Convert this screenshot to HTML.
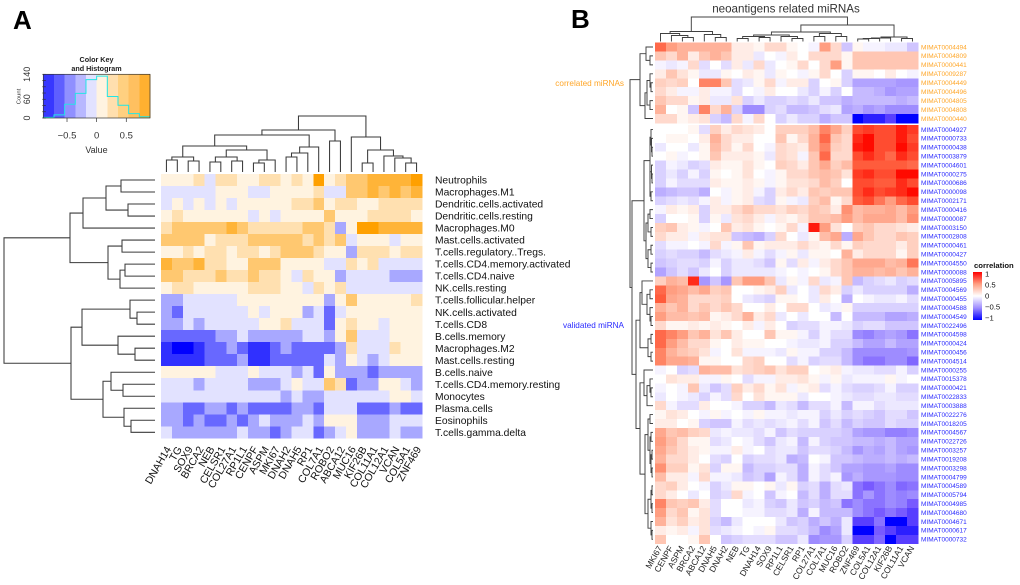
<!DOCTYPE html>
<html lang="en">
<head>
<meta charset="utf-8">
<title>Immune cell and neoantigen miRNA correlation heatmaps</title>
<style>
html,body{margin:0;padding:0;background:#fff;width:1020px;height:585px;overflow:hidden}
svg{display:block;font-family:"Liberation Sans",Arial,sans-serif;filter:blur(0.35px)}
</style>
</head>
<body>
<svg id="figure" width="1020" height="585" viewBox="0 0 1020 585" xmlns="http://www.w3.org/2000/svg">
<rect x="0" y="0" width="1020" height="585" fill="#fff"/>
<text x="13" y="29" font-size="26" font-weight="bold" fill="#000">A</text>
<text x="571" y="28" font-size="26" font-weight="bold" fill="#000">B</text>
<text x="96.5" y="62" font-size="7.2" font-weight="bold" text-anchor="middle" fill="#222">Color Key</text>
<text x="96.5" y="71" font-size="7.2" font-weight="bold" text-anchor="middle" fill="#222">and Histogram</text>
<text x="96.5" y="153" font-size="9" text-anchor="middle" fill="#333">Value</text>
<text transform="translate(20.5,96.5) rotate(-90)" font-size="5.8" text-anchor="middle" fill="#333">Count</text>
<text x="786" y="12.5" font-size="11.6" text-anchor="middle" fill="#333">neoantigens related miRNAs</text>
<text x="624" y="86" font-size="8.2" text-anchor="end" fill="#ffa628">correlated miRNAs</text>
<text x="624" y="328" font-size="8.2" text-anchor="end" fill="#2a2aff">validated miRNA</text>
<defs>
<linearGradient id="legendGradient" x1="0" y1="0" x2="0" y2="1">
<stop offset="0" stop-color="#ff0000"/><stop offset="0.25" stop-color="#ff9e81"/><stop offset="0.5" stop-color="#ffffff"/><stop offset="0.75" stop-color="#9e8cff"/><stop offset="1" stop-color="#0000ff"/>
</linearGradient>
</defs>
<rect x="973" y="272" width="9" height="48" fill="url(#legendGradient)"/>
<text x="974" y="268" font-size="7.7" font-weight="bold" fill="#111">correlation</text>
<g id="legendTicks"></g>
<g id="keyLayer"></g>
<g id="heatA" shape-rendering="crispEdges"></g>
<g id="treesA" fill="none" stroke="#3a3a3a" stroke-width="1.05"></g>
<g id="labelsA" fill="#111"></g>
<g id="heatB" shape-rendering="crispEdges"></g>
<g id="treesB" fill="none" stroke="#404040" stroke-width="0.95"></g>
<g id="labelsB"></g>
</svg>
<script>
// ---------- Panel A data ----------
const geneLabelsA = ["DNAH14","TG","SOX9","BRCA2","NEB","CELSR1","COL27A1","RP1L1","CENPF","ASPM","MKI67","DNAH2","DNAH5","RP1","COL7A1","ROBO2","ABCA12","MUC16","KIF26B","COL11A1","COL12A1","VCAN","COL5A1","ZNF469"];
const cellLabelsA = ["Neutrophils","Macrophages.M1","Dendritic.cells.activated","Dendritic.cells.resting","Macrophages.M0","Mast.cells.activated","T.cells.regulatory..Tregs.","T.cells.CD4.memory.activated","T.cells.CD4.naive","NK.cells.resting","T.cells.follicular.helper","NK.cells.activated","T.cells.CD8","B.cells.memory","Macrophages.M2","Mast.cells.resting","B.cells.naive","T.cells.CD4.memory.resting","Monocytes","Plasma.cells","Eosinophils","T.cells.gamma.delta"];
// binned correlation (negative = blue bins, positive = orange bins)
const binnedCorrelationA = [
[1,1,1,2,-1,2,2,1,1,2,2,1,2,1,5,1,2,3,3,4,4,4,4,5],
[-1,-1,-1,-1,-1,1,1,1,-1,-1,1,1,1,1,2,-1,-1,3,3,4,3,4,3,4],
[-1,1,-1,1,-1,1,-1,1,1,1,1,1,2,2,3,1,2,2,1,1,2,2,2,2],
[1,2,1,1,1,1,1,1,-1,1,-1,1,1,1,1,3,1,1,1,2,2,2,2,1],
[2,3,3,3,3,3,4,3,2,2,2,2,2,3,3,2,-2,1,5,5,4,4,4,4],
[3,3,3,3,1,2,2,2,3,3,3,3,3,2,3,2,3,-1,1,1,1,-1,1,1],
[1,1,2,1,2,2,1,2,2,1,2,3,3,3,2,1,1,-2,2,2,2,1,2,2],
[4,3,3,4,2,2,1,1,3,3,3,1,1,1,1,-1,-1,2,1,2,-1,-1,-1,-1],
[3,3,2,2,2,3,2,2,3,2,2,1,-1,2,1,1,-2,-1,-1,-1,-1,-2,-2,-2],
[1,2,2,1,1,1,1,1,2,2,2,1,1,-1,2,1,2,-1,-1,-1,-1,-1,-1,-1],
[-2,-2,-1,-1,-1,-1,-1,1,1,1,1,1,1,1,1,-2,1,3,1,1,1,1,1,2],
[-2,-3,-1,-1,-1,-1,-1,-1,1,-1,1,1,1,-2,-1,-3,-1,1,1,1,1,1,1,1],
[-2,-2,-1,-2,-1,-1,-1,-1,-1,1,1,2,-1,-1,-1,-3,1,2,1,1,-1,1,1,1],
[-3,-3,-3,-3,-3,-2,-2,-1,-2,-2,-2,-2,-2,-1,-1,-2,1,3,-1,-1,-1,1,1,1],
[-4,-5,-5,-4,-3,-3,-2,-3,-4,-4,-3,-2,-3,-3,-3,-3,-2,2,-1,-1,-1,2,1,1],
[-4,-4,-4,-4,-3,-3,-3,-2,-4,-4,-3,-3,-3,-3,-3,-1,-2,1,-1,-2,-1,1,1,1],
[1,1,1,1,1,-1,-1,-1,1,-1,-1,-1,-2,-1,-3,1,-2,-2,-2,-3,-2,-2,-2,-2],
[-1,-1,-1,-2,-1,-1,-1,-1,-2,-2,-2,-1,1,-1,-1,3,2,-3,-2,-2,1,1,-1,-2],
[-1,-1,-1,-1,-1,-1,-1,-1,-1,-1,-1,-2,-1,-2,-2,-1,-1,-1,-1,-1,-1,1,1,-1],
[-2,-2,-3,-3,-2,-2,-3,-2,-3,-3,-3,-3,-2,-2,-3,-1,-1,-1,-3,-3,-3,-2,-3,-3],
[-2,-2,-3,-2,-3,-3,-2,-3,-2,-1,-2,-2,-2,-1,-2,1,1,1,-2,-2,-2,-1,-1,-1],
[-1,-2,-2,-2,-2,-2,-2,-1,-2,-2,-3,-2,-1,-1,-3,-2,-1,1,-2,-2,-2,-1,-2,-2]
];
const geneTreeA = [56,[42,[37,[26,[15,[12,0,1],[11,2,3]],[22,[15,[10,4,5],[11,6,7]],[12,[9,8,9],10]]],[25,[19,[15,11,12],13],14]],[31,15,16]],[35,17,[22,[9,18,19],[16,20,[14,21,[9,22,23]]]]]];
const cellTreeA = [151,[85,[72,[49,[34,0,1],[27,2,3]],4],[47,[33,5,6],[35,[30,7,8],9]]],[84,[73,[25,10,[18,11,12]],[37,13,[20,14,15]]],[52,[44,16,[32,17,18]],[31,19,[24,20,21]]]]];
const histogramCounts = [2,10,44,79,123,134,69,41,14,4];
const keyTicksX = [-0.5,0,0.5];
const keyTicksY = [0,20,40,60,80,100,120,140];
const keyTickLabelsY = [0,60,140];

// ---------- Panel B data ----------
const geneLabelsB = ["MKI67","CENPF","ASPM","BRCA2","ABCA12","DNAH5","DNAH2","NEB","TG","DNAH14","SOX9","RP1L1","CELSR1","RP1","COL27A1","COL7A1","MUC16","ROBO2","ZNF469","COL5A1","COL12A1","KIF26B","COL11A1","VCAN"];
const correlatedMirnas = ["MIMAT0004494","MIMAT0004809","MIMAT0000441","MIMAT0009287","MIMAT0004449","MIMAT0004496","MIMAT0004805","MIMAT0004808","MIMAT0000440"];
const validatedMirnas = ["MIMAT0004927","MIMAT0000733","MIMAT0000438","MIMAT0003879","MIMAT0004601","MIMAT0000275","MIMAT0000686","MIMAT0000098","MIMAT0002171","MIMAT0000416","MIMAT0000087","MIMAT0003150","MIMAT0002808","MIMAT0000461","MIMAT0000427","MIMAT0004550","MIMAT0000088","MIMAT0005895","MIMAT0004569","MIMAT0000455","MIMAT0004588","MIMAT0004549","MIMAT0022496","MIMAT0004598","MIMAT0000424","MIMAT0000456","MIMAT0004514","MIMAT0000255","MIMAT0015378","MIMAT0000421","MIMAT0022833","MIMAT0003888","MIMAT0022276","MIMAT0018205","MIMAT0004567","MIMAT0022726","MIMAT0003257","MIMAT0019208","MIMAT0003298","MIMAT0004799","MIMAT0004589","MIMAT0005794","MIMAT0004985","MIMAT0004680","MIMAT0004671","MIMAT0000617","MIMAT0000732"];
// correlation in tenths
const correlationCorrelated = [
[7,5,4,4,4,4,4,1,1,.5,2,2,.5,0,-.5,5,2,-2.5,.5,-.5,-.5,-1,-1,-2.5],
[3,2,4,1,3,4,3,1,1,-1,0,-.5,1,0,2,2,2,.5,3,3,3,3,3,3],
[-.5,-1,-.5,2,-1.5,0,-1.5,1,-1,2,-1,0,.5,2,0,2,5,.5,3,3,3,3,3,3],
[1,3,1.5,.5,-1,-1,.5,0,1,.5,-1,.5,0,-.5,.5,2,0,-2,.5,.5,0,1,0,-.5],
[2.5,2,2.5,0,6,6,3,-1.5,-1,.5,2,-.5,1,1,-2,0,.5,-2,-4,-4,-4,-4,-4.5,-4.5],
[2,1,-.5,-.5,1,-.5,-.5,-1.5,0,-.5,1,0,0,-1,-2,-.5,-2,0,-3,-3,-3.5,-4.5,-4,-4],
[3,2,2,.5,1,-1,-1,1.5,-2,-1,-2,-2,-1.5,-2,-1,-2.5,-2.5,-3.5,-3,-3,-3,-3,-3.5,-3],
[4,0,.5,-2.5,6,2,4,-2,-5,-5,-2,-1.5,-3,-3,-2.5,-1.5,-1,-4,-3.5,-4.5,-4,-5,-5,-5],
[2,2,.5,1,1.5,-2,-3,2,-.5,2,0,-2,-1,-2,-2,-3.5,-2.5,-2.5,-10,-9,-9,-8,-10,-10]
];
const correlationValidated = [
[0,0,0,.5,-1.5,2.5,1,2,1.5,1,0,2.5,2.5,2.5,3.5,6,4.5,2.5,8,8.5,8,8,9.5,8.5],
[0,.5,.5,0,1,4,2,1,1,0,0,3,.5,2,4,7,3,2,9,10,8,8,9.5,8],
[-1,0,0,-1,.5,3.5,2,.5,2,0,-.5,2,1.5,1,4,6,2.5,2,9.5,10,8,8,10,8.5],
[0,.5,-.5,0,.5,3,1,1,1,.5,-1,2,1.5,-.5,3,7,2,2,8,9,8,7,9,8],
[-2,-.5,-1,-2,-1.5,1,.5,.5,1.5,.5,0,2.5,2,1,3,4.5,2.5,3.5,7.5,7.5,7.5,7.5,7.5,7],
[-2,-1,-2,-.5,-2,.5,0,.5,1.5,0,-.5,.5,2,2,3,3.5,3,1.5,8.5,9,8,8,10,10],
[-2,-.5,-1.5,-1.5,-1.5,1,.5,.5,1,.5,-.5,.5,1.5,1.5,2,3.5,2.5,0,8,8,7.5,7.5,9,8],
[-3.5,-3,-2.5,-2.5,-3.5,0,-.5,.5,1,-.5,-2,1,2,1,3,2.5,3,3,8,9,8,8.5,9,10],
[-2,-1.5,-1,-1.5,-.5,1,-.5,.5,1,-1.5,-2,.5,-.5,-1,2.5,3.5,.5,2,7.5,8,6.5,5,7,8],
[-.5,1,.5,1,-2,1,1,2,3,2,2,1.5,2.5,2,3,2.5,1,5.5,3.5,4,4,4.5,3.5,5],
[-2,0,0,.5,-2,.5,-1,1.5,2,1,-.5,1,.5,1.5,3,3,3.5,5,3.5,4.5,4.5,4.5,3.5,5.5],
[2.5,3,1,.5,-.5,0,3,1,1.5,.5,0,.5,2,-.5,9.5,5,1.5,0,2.5,3,2,2,1.5,1],
[2,1,1,-.5,1,1.5,1.5,-2.5,-3,-3.5,-2,2,0,-1,.5,3.5,4.5,-3.5,4.5,3,2,2,3,2.5],
[-1.5,-.5,-.5,0,-.5,2,-.5,.5,3,.5,1,1,1,2,1,.5,2,.5,2.5,2,2,2,1,2.5],
[-2,-1.5,-2,-2,-3,-1.5,-1,-.5,1,-.5,-1.5,-.5,.5,-1,.5,.5,0,4,1,2,2,2,.5,2.5],
[-2.5,-2,-1.5,-1.5,-2,-.5,-2,-1,-1,-1.5,-2.5,.5,-1.5,1,-.5,1,2,3,4.5,4.5,4.5,3.5,4,6.5],
[-4,-2.5,-1.5,-2.5,-1,0,-2,-1,-1,-1,-1,-.5,0,-.5,0,.5,2,3,4,4,3.5,4,3,4],
[2.5,4,3.5,9,-4.5,-2.5,-4.5,3,5,5,3,-1,.5,-.5,2,-1,-.5,3,-3,-2,-1.5,-1,-2,-1.5],
[7,5,4.5,3.5,4.5,2.5,3,0,0,.5,1,2.5,-1,0,-1,2,1,-2,-1,-2,-2,-2,-2,-3.5],
[7.5,4.5,4,2,2,2,2.5,0,-1,-1.5,-2,.5,.5,0,-1,1,0,-3.5,0,-.5,-1,-1,-.5,-1.5],
[4,3,4,2,3,2,3,2,0,0,1,0,2,2,0,-1,-.5,.5,-2,-2,-2,-2,-2,-2],
[5,3.5,3.5,3,3.5,.5,1,2,4,1,2,-1,0,-1,0,0,-3,0,-3,-3,-3,-4,-4,-3.5],
[2,.5,.5,1,.5,1,.5,0,1,-.5,1,0,-2,-1.5,-1.5,-.5,-.5,-1,-2,-1.5,-1.5,-2.5,-2.5,-2.5],
[7,6,5,3,4,1.5,3,1,0,0,3,.5,.5,-.5,-2,-.5,-1.5,-1.5,-5,-5.5,-4.5,-4,-4.5,-6],
[7,5,3.5,2,2,.5,0,1,.5,.5,0,0,-.5,-1,-1,-.5,-2,-2,-3,-4,-4,-3,-4,-4],
[6,4,3,2.5,1.5,-.5,0,1.5,-.5,-.5,-.5,-1,.5,-.5,-.5,-2,-2,-3,-5,-5,-5,-5,-5,-4.5],
[6,4.5,4.5,4,.5,.5,0,0,2,2.5,0,0,-1.5,-.5,-2,-1.5,-1.5,-3,-5,-6,-6,-5,-5,-6.5],
[-.5,0,-2,-1.5,4,3.5,3.5,1.5,2,2.5,3,1.5,2.5,2.5,0,.5,1,-.5,-1,-1,-1.5,-1.5,-.5,-2],
[0,1.5,1,1,-.5,-.5,.5,0,-1.5,-.5,-.5,1,1,1.5,.5,-.5,.5,-1,-.5,-.5,-.5,.5,-.5,0],
[-.5,0,-.5,3,-1,-2.5,-1.5,2.5,1,2,.5,1.5,-.5,.5,1,-1.5,-.5,-1.5,-2,-2,-1.5,-.5,-2,-2],
[-1,0,-.5,-1,-2,-.5,-1.5,2,0,1.5,.5,.5,.5,-1,0,0,-.5,-1,-1.5,-1.5,-1,-1,-1.5,-1.5],
[2,-.5,-1.5,-1.5,1,0,0,-.5,-2,-2,-3,-1,-1.5,-3,-1.5,-1.5,-.5,-3,-.5,-.5,-1.5,-1,-1,-1],
[.5,1.5,1,0,-.5,.5,-.5,0,-.5,.5,-.5,-.5,-1,-.5,-.5,-2,-1,-2,-1.5,-2,-2.5,-1.5,-1.5,-2.5],
[1,1,0,.5,-2,-2.5,-2.5,-.5,-1.5,-1,-1.5,-1,-.5,-1.5,-.5,-2.5,-1.5,-3,-2,-2.5,-2.5,-1.5,-2,-2],
[4.5,3,3.5,2.5,2,-1,-.5,-1,-1,-1.5,-.5,-2.5,-1.5,-2,-2,-2,-2,-2.5,-4,-4.5,-4.5,-5.5,-5.5,-5],
[5,3.5,2,.5,.5,-1.5,-1,0,-.5,-1.5,-2.5,-1,-.5,-3,-.5,-2,-2.5,-2.5,-3,-3,-3.5,-3,-4,-4],
[4.5,3,2,1,.5,-.5,-.5,1,-.5,0,-1.5,-1,-1,-2.5,-1.5,-1.5,-2,-3,-4.5,-3.5,-4,-3,-4,-4.5],
[4,2,2,1,0,-1.5,-2,0,-2,-1.5,-1.5,-1,-3.5,-3,0,-.5,-2.5,-2.5,-3,-3.5,-3.5,-3,-3.5,-3],
[5.5,2.5,2.5,.5,1.5,-2,.5,.5,-3,-2,-2,-1.5,-1.5,-3.5,-.5,-1.5,-2.5,-4,-4,-4.5,-4.5,-4,-5,-5],
[3.5,1,1,-.5,2,-.5,-.5,-1,-2.5,-2,-4,-.5,-1.5,-3.5,-.5,-1.5,-.5,-4.5,-3.5,-4.5,-4.5,-4.5,-5,-5],
[2,2.5,1,0,-.5,-2,-1,.5,.5,0,.5,-1,.5,-2,-1.5,-3.5,-1.5,-1,-6,-7,-6,-5,-6.5,-6],
[2,1,0,-1,0,-2,-1.5,2,-.5,0,-2.5,-.5,0,-3,-1.5,-3.5,-1.5,-1.5,-6,-4.5,-6,-5,-5.5,-5],
[6,3,2.5,3,1,-1.5,0,0,-1,-.5,-2,-2.5,-1,-2.5,-2,-3,-2.5,-6,-5,-6,-6,-5,-5.5,-7],
[5,2,3,.5,1.5,-1.5,0,0,-.5,-.5,-1.5,-1.5,-1,-3.5,-.5,-3,-3,-3,-5,-6,-7,-6,-7,-8],
[4,1.5,2.5,1,1.5,-2,-3,-1,0,0,0,-1,-2.5,-2,-3.5,-2.5,-3.5,-1,-8,-8,-6,-10,-10,-8],
[1,.5,1,-.5,1.5,-1.5,-1,-.5,0,-.5,.5,-1.5,-1.5,-2,-3,-5,-4,-1,-10,-10,-7,-8,-9,-9],
[3,0,0,.5,3,0,-2.5,-2,-1.5,-1.5,-1.5,-2.5,-2.5,-1,-5,-4.5,-4.5,-2,-8,-8,-6.5,-10,-8,-8]
];
const geneTreeB = [24.5,[10,[8,0,[6,1,[4,2,3]]],[7,4,[4,5,6]]],[16.5,[9.5,[6.5,[5,[3,7,8],[4,9,10]],[5,11,[3,12,13]]],[8,[5,14,15],[5,16,17]]],[4.5,[3.5,[3,[2.5,18,19],20],21],[3,22,23]]]];
const mirnaTreeB = [23,[13,[7,0,[3,1,2]],[8,[6,[3,3,[2,4,5]],[3,6,7]],8]],[21,[9,[3,[2,9,[1.5,10,[1,11,12]]],[3,[1.5,13,[1,14,15]],[2,16,17]]],[7,[5,[3,18,19],[2,20,21]],[5,[2,22,23],[2,24,25]]]],[17,[13,[11,26,[6,[3,27,28],[3,29,[2,30,31]]]],[5,[2,32,33],[2,34,35]]],[13,[9,36,[6,[3,37,[2,38,39]],40]],[8,[5,[3,41,42],[3,[2,43,44],[2,[1,45,46],[1,47,48]]]],[5,[2,[1,49,50],[1,51,52]],[2,53,[1,54,55]]]]]]]];
const legendTickValues = [1,0.5,0,-0.5,-1];
const legendTickLabels = ["1","0.5","0","\u22120.5","\u22121"];

// ---------- Helpers ----------
const NS = "http://www.w3.org/2000/svg";
function make(tag, parent, attrs, text) {
  const el = document.createElementNS(NS, tag);
  for (const k in attrs) el.setAttribute(k, attrs[k]);
  if (text !== undefined) el.textContent = text;
  parent.appendChild(el);
  return el;
}
const paletteA = {"-5":"#0000ff","-4":"#3030ff","-3":"#6868ff","-2":"#a8a8ff","-1":"#e2e2ff","0":"#ffffff","1":"#fff3e0","2":"#ffe0b0","3":"#ffc870","4":"#ffb438","5":"#ffa000"};
function colorA(v) { return paletteA[String(Math.max(-5, Math.min(5, Math.round(v))))]; }
const rampStops = [[-1,[0,0,255]],[-0.75,[110,78,255]],[-0.5,[158,140,255]],[-0.25,[208,197,255]],[0,[255,255,255]],[0.25,[255,208,192]],[0.5,[255,158,129]],[0.75,[255,92,60]],[1,[255,10,0]]];
function colorB(v) {
  const t = Math.max(-1, Math.min(1, v));
  for (let i = 1; i < rampStops.length; i++) {
    if (t <= rampStops[i][0]) {
      const a = rampStops[i - 1], b = rampStops[i], f = (t - a[0]) / (b[0] - a[0]);
      return "rgb(" + [0, 1, 2].map(k => Math.round(a[1][k] + (b[1][k] - a[1][k]) * f)).join(",") + ")";
    }
  }
  return "rgb(255,10,0)";
}
function drawTree(node, leafPos, heightPos, horizontal, parent) {
  if (typeof node === "number") return { pos: leafPos(node), h: 0 };
  const a = drawTree(node[1], leafPos, heightPos, horizontal, parent);
  const b = drawTree(node[2], leafPos, heightPos, horizontal, parent);
  const d = horizontal
    ? "M" + heightPos(a.h) + " " + a.pos + "H" + heightPos(node[0]) + "V" + b.pos + "H" + heightPos(b.h)
    : "M" + a.pos + " " + heightPos(a.h) + "V" + heightPos(node[0]) + "H" + b.pos + "V" + heightPos(b.h);
  const link = make("path", parent, { d: d });
  
  
  return { pos: (a.pos + b.pos) / 2, h: node[0] };
}

// ---------- Panel A axes ----------
const ax = { left: 161, top: 174, cw: 261 / 24, rh: 264.3 / 22 };
const xA = i => ax.left + ax.cw * i;
const yA = i => ax.top + ax.rh * i;
const heatA = document.getElementById("heatA");
binnedCorrelationA.forEach((row, r) => row.forEach((v, c) => {
  const cell = make("rect", heatA, { x: xA(c).toFixed(2), y: yA(r).toFixed(2), width: (ax.cw + 0.3).toFixed(2), height: (ax.rh + 0.3).toFixed(2), fill: colorA(v) });
  
  
}));
const labelsA = document.getElementById("labelsA");
cellLabelsA.forEach((t, r) => {
  const label = make("text", labelsA, { x: 435, y: (yA(r + 0.5) + 3.6).toFixed(2), "font-size": 10.3 }, t);
  
  
});
geneLabelsA.forEach((t, c) => {
  const px = xA(c + 0.5) + 5, py = 449;
  const label = make("text", labelsA, { transform: "translate(" + px.toFixed(2) + "," + py + ") rotate(-60)", "font-size": 10.5, "text-anchor": "end" }, t);
  
  
});
const treesA = document.getElementById("treesA");
drawTree(geneTreeA, i => xA(i + 0.5), h => 172 - h, false, treesA);
drawTree(cellTreeA, i => yA(i + 0.5), h => 155 - h, true, treesA);

// ---------- Color key ----------
const key = { left: 43.3, right: 150, top: 74.3, bottom: 118, min: -0.9, max: 0.9, maxCount: 140 };
const keyX = v => key.left + (v - key.min) / (key.max - key.min) * (key.right - key.left);
const keyY = v => key.bottom - v / key.maxCount * (key.bottom - key.top);
const keyLayer = document.getElementById("keyLayer");
const keyColors = ["#3838ff","#5f5fff","#9090ff","#b8b8ff","#e2e2ff","#fff3e0","#ffdfae","#ffd080","#ffc060","#ffb030"];
const binWidth = (key.max - key.min) / histogramCounts.length;
keyColors.forEach((col, i) => {
  const bin = make("rect", keyLayer, { x: keyX(key.min + i * binWidth).toFixed(2), y: key.top, width: ((key.right - key.left) / 10 + 0.3).toFixed(2), height: key.bottom - key.top, fill: col, "shape-rendering": "crispEdges" });
  
  
});
let histPath = "M" + key.left + " " + key.bottom;
histogramCounts.forEach((n, i) => {
  histPath += "V" + keyY(n).toFixed(2) + "H" + keyX(key.min + (i + 1) * binWidth).toFixed(2);
});
const hist = make("path", keyLayer, { d: histPath, fill: "none", stroke: "#22e6e6", "stroke-width": 1 });


const keyFrame = make("rect", keyLayer, { x: key.left, y: key.top, width: key.right - key.left, height: key.bottom - key.top, fill: "none", stroke: "#333", "stroke-width": 0.7 });


keyTicksX.forEach(v => {
  const tick = make("line", keyLayer, { x1: keyX(v), x2: keyX(v), y1: key.bottom, y2: key.bottom + 4, stroke: "#333", "stroke-width": 0.7 });
  
  
  const tl = make("text", keyLayer, { x: keyX(v), y: 138.5, "font-size": 9.5, "text-anchor": "middle", fill: "#333" }, String(v).replace("-", "\u2212"));
  
  
});
keyTicksY.forEach(v => {
  const tick = make("line", keyLayer, { x1: key.left - 1, x2: key.left + 2.5, y1: keyY(v), y2: keyY(v), stroke: "#333", "stroke-width": 0.7 });
  
  
});
keyTickLabelsY.forEach(v => {
  const tl = make("text", keyLayer, { transform: "translate(30," + keyY(v).toFixed(2) + ") rotate(-90)", "font-size": 9, "text-anchor": "middle", fill: "#333" }, String(v));
  
  
});

// ---------- Panel B axes ----------
const bx = { left: 655, cw: 263 / 24, topA: 42.5, rhA: 8.94, topB: 125, rhB: 8.91 };
const xB = i => bx.left + bx.cw * i;
const yTop = i => bx.topA + bx.rhA * i;
const yBottom = i => bx.topB + bx.rhB * i;
const yMirna = i => i < correlatedMirnas.length ? yTop(i + 0.5) : yBottom(i - correlatedMirnas.length + 0.5);
const heatB = document.getElementById("heatB");
correlationCorrelated.forEach((row, r) => row.forEach((v, c) => {
  const cell = make("rect", heatB, { x: xB(c).toFixed(2), y: yTop(r).toFixed(2), width: (bx.cw + 0.3).toFixed(2), height: (bx.rhA + 0.3).toFixed(2), fill: colorB(v / 10) });
  
  
}));
correlationValidated.forEach((row, r) => row.forEach((v, c) => {
  const cell = make("rect", heatB, { x: xB(c).toFixed(2), y: yBottom(r).toFixed(2), width: (bx.cw + 0.3).toFixed(2), height: (bx.rhB + 0.3).toFixed(2), fill: colorB(v / 10) });
  
  
}));
const labelsB = document.getElementById("labelsB");
correlatedMirnas.forEach((t, i) => {
  const label = make("text", labelsB, { x: 921, y: (yTop(i + 0.5) + 2.3).toFixed(2), "font-size": 6.5, fill: "#ffa628" }, t);
  
  
});
validatedMirnas.forEach((t, i) => {
  const label = make("text", labelsB, { x: 921, y: (yBottom(i + 0.5) + 2.3).toFixed(2), "font-size": 6.5, fill: "#2a2aff" }, t);
  
  
});
geneLabelsB.forEach((t, c) => {
  const px = xB(c + 0.5) + 2, py = 548;
  const label = make("text", labelsB, { transform: "translate(" + px.toFixed(2) + "," + py + ") rotate(-60)", "font-size": 8.5, "text-anchor": "end", fill: "#222" }, t);
  
  
});
const treesB = document.getElementById("treesB");
drawTree(geneTreeB, i => xB(i + 0.5), h => 41.5 - h, false, treesB);
drawTree(mirnaTreeB, yMirna, h => 653 - h, true, treesB);

// ---------- Legend ticks ----------
const legendY = v => 274 + (1 - v) / 2 * 44;
const legendTicks = document.getElementById("legendTicks");
legendTickValues.forEach((v, i) => {
  const tl = make("text", legendTicks, { x: 985, y: (legendY(v) + 2.7).toFixed(2), "font-size": 7.7, fill: "#111" }, legendTickLabels[i]);
  
  
});
</script>
</body>
</html>
